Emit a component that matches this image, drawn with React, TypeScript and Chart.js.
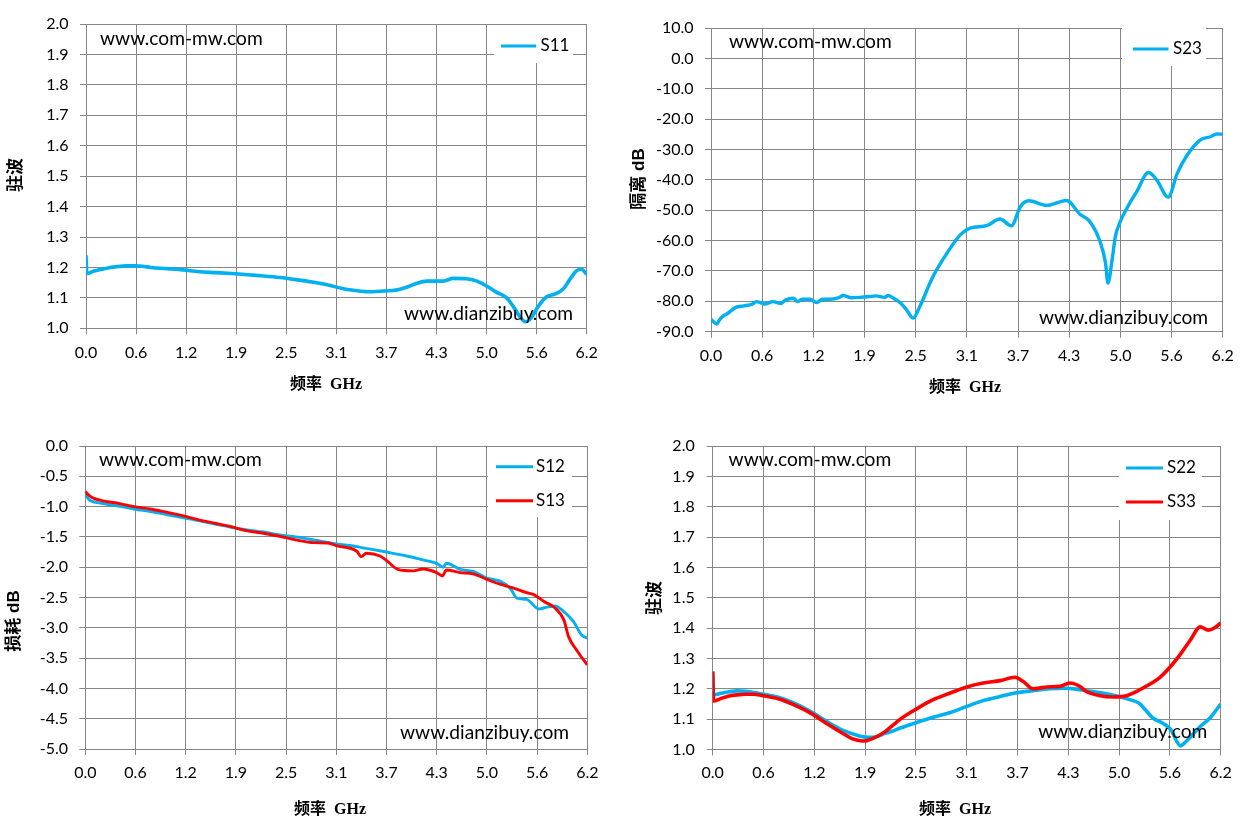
import React, { useEffect, useRef } from "react";
import { Chart, registerables } from "chart.js";

Chart.register(...registerables);

// ---------- shared axis ticks ----------
const xTickValues = [0, 0.62, 1.24, 1.86, 2.48, 3.1, 3.72, 4.34, 4.96, 5.58, 6.2];
const xTickLabels = ["0.0", "0.6", "1.2", "1.9", "2.5", "3.1", "3.7", "4.3", "5.0", "5.6", "6.2"];
const vswrTicks = [1.0, 1.1, 1.2, 1.3, 1.4, 1.5, 1.6, 1.7, 1.8, 1.9, 2.0];
const isoTicks = [-90, -80, -70, -60, -50, -40, -30, -20, -10, 0, 10];
const lossTicks = [-5, -4.5, -4, -3.5, -3, -2.5, -2, -1.5, -1, -0.5, 0];

// ---------- S11 (驻波) ----------
const s11Freq = [0, 0.01, 0.1, 0.2, 0.3, 0.4, 0.5, 0.6, 0.7, 0.8, 1.0, 1.2, 1.4, 1.6, 1.8, 2.0, 2.2, 2.4, 2.6, 2.8, 3.0, 3.2, 3.4, 3.5, 3.64, 3.8, 3.97, 4.09, 4.22, 4.42, 4.55, 4.71, 4.84, 4.96, 5.08, 5.21, 5.29, 5.37, 5.44, 5.52, 5.6, 5.7, 5.81, 5.91, 5.99, 6.07, 6.13, 6.2];
const s11Vals = [1.24, 1.18, 1.188, 1.194, 1.2, 1.203, 1.205, 1.205, 1.204, 1.2, 1.196, 1.192, 1.186, 1.183, 1.18, 1.176, 1.172, 1.167, 1.16, 1.152, 1.142, 1.129, 1.122, 1.12, 1.122, 1.124, 1.135, 1.147, 1.155, 1.155, 1.164, 1.163, 1.155, 1.139, 1.119, 1.1, 1.072, 1.039, 1.022, 1.037, 1.072, 1.103, 1.113, 1.129, 1.16, 1.188, 1.195, 1.178];

// ---------- S23 (隔离 dB) ----------
const s23Freq = [0, 0.03, 0.07, 0.1, 0.15, 0.2, 0.3, 0.4, 0.5, 0.55, 0.6, 0.65, 0.75, 0.85, 0.9, 1.0, 1.05, 1.1, 1.2, 1.28, 1.35, 1.45, 1.55, 1.6, 1.7, 1.8, 1.9, 2.0, 2.1, 2.15, 2.2, 2.29, 2.37, 2.45, 2.53, 2.69, 2.86, 3.02, 3.14, 3.34, 3.5, 3.64, 3.75, 3.85, 4.07, 4.31, 4.47, 4.59, 4.72, 4.78, 4.81, 4.86, 4.9, 4.96, 5.04, 5.16, 5.3, 5.4, 5.54, 5.65, 5.77, 5.93, 6.05, 6.13, 6.2];
const s23Vals = [-85.9, -86.7, -87.5, -86.2, -84.8, -84, -82, -81.5, -80.9, -80.1, -80.4, -80.9, -80.1, -80.7, -79.6, -79, -80.1, -79.3, -79.3, -80.4, -79.3, -79.3, -78.8, -78.1, -78.8, -78.7, -78.5, -78.2, -78.7, -78.1, -78.8, -80.4, -82.8, -85.5, -81.7, -71.8, -64.1, -58.1, -55.9, -55.1, -52.9, -55.1, -48.8, -46.9, -48.4, -46.8, -51.3, -53.7, -60.8, -67.4, -74, -66.3, -58.6, -53.7, -49.3, -43.8, -37.6, -40, -45.7, -37.8, -31.8, -26.8, -25.8, -24.9, -25];

// ---------- S12 / S13 (损耗 dB) ----------
const s12Freq = [0, 0.05, 0.1, 0.2, 0.3, 0.5, 0.6, 0.8, 1.0, 1.2, 1.4, 1.6, 1.8, 2.0, 2.2, 2.4, 2.6, 2.82, 3.1, 3.31, 3.43, 3.72, 3.97, 4.17, 4.34, 4.42, 4.46, 4.63, 4.79, 4.96, 5.12, 5.25, 5.33, 5.45, 5.6, 5.7, 5.8, 5.9, 6.03, 6.13, 6.2];
const s12Vals = [-0.8, -0.89, -0.92, -0.945, -0.97, -1.01, -1.04, -1.08, -1.13, -1.18, -1.23, -1.29, -1.34, -1.385, -1.42, -1.469, -1.5, -1.551, -1.617, -1.65, -1.68, -1.75, -1.815, -1.88, -1.936, -2.0, -1.936, -2.035, -2.07, -2.18, -2.23, -2.35, -2.51, -2.53, -2.69, -2.66, -2.64, -2.72, -2.9, -3.12, -3.17];
const s13Freq = [0, 0.05, 0.1, 0.2, 0.4, 0.6, 0.8, 1.0, 1.2, 1.4, 1.6, 1.8, 2.0, 2.2, 2.4, 2.6, 2.82, 3.0, 3.1, 3.35, 3.41, 3.47, 3.64, 3.72, 3.86, 4.05, 4.17, 4.34, 4.41, 4.46, 4.63, 4.79, 4.96, 5.12, 5.28, 5.45, 5.55, 5.67, 5.79, 5.91, 5.97, 6.08, 6.17, 6.2];
const s13Vals = [-0.753, -0.82, -0.86, -0.9, -0.945, -1.0, -1.04, -1.09, -1.15, -1.22, -1.275, -1.33, -1.4, -1.44, -1.49, -1.55, -1.595, -1.6, -1.645, -1.733, -1.826, -1.77, -1.815, -1.89, -2.035, -2.06, -2.03, -2.09, -2.145, -2.046, -2.09, -2.11, -2.2, -2.28, -2.34, -2.42, -2.46, -2.57, -2.66, -2.87, -3.15, -3.39, -3.56, -3.61];

// ---------- S22 / S33 (驻波) ----------
const s22Freq = [0, 0.01, 0.1, 0.2, 0.3, 0.4, 0.5, 0.6, 0.8, 1.0, 1.2, 1.4, 1.6, 1.8, 1.9, 2.0, 2.1, 2.2, 2.29, 2.49, 2.69, 2.9, 3.1, 3.3, 3.51, 3.69, 3.91, 4.11, 4.32, 4.48, 4.64, 4.8, 4.96, 5.12, 5.2, 5.28, 5.37, 5.49, 5.59, 5.71, 5.78, 5.95, 6.07, 6.2];
const s22Vals = [1.257, 1.18, 1.185, 1.19, 1.193, 1.192, 1.188, 1.183, 1.172, 1.152, 1.124, 1.091, 1.062, 1.044, 1.04, 1.042, 1.053, 1.061, 1.071, 1.089, 1.106, 1.122, 1.142, 1.161, 1.175, 1.186, 1.194, 1.2, 1.202, 1.197, 1.191, 1.184, 1.175, 1.162, 1.153, 1.131, 1.104, 1.087, 1.066, 1.012, 1.027, 1.076, 1.104, 1.15];
const s33Freq = [0, 0.01, 0.1, 0.2, 0.3, 0.4, 0.5, 0.6, 0.8, 1.0, 1.2, 1.4, 1.6, 1.7, 1.8, 1.85, 1.9, 2.0, 2.1, 2.2, 2.29, 2.49, 2.69, 2.9, 3.1, 3.3, 3.51, 3.69, 3.79, 3.91, 4.08, 4.24, 4.36, 4.48, 4.56, 4.73, 4.89, 5.05, 5.17, 5.3, 5.46, 5.58, 5.7, 5.83, 5.95, 6.05, 6.13, 6.2];
const s33Vals = [1.257, 1.16, 1.168, 1.176, 1.18, 1.182, 1.182, 1.178, 1.167, 1.146, 1.119, 1.084, 1.051, 1.036, 1.029, 1.028, 1.031, 1.042, 1.058, 1.08, 1.1, 1.134, 1.164, 1.186, 1.206, 1.219, 1.227, 1.238, 1.224, 1.2, 1.206, 1.208, 1.219, 1.208, 1.191, 1.177, 1.173, 1.177, 1.191, 1.21, 1.238, 1.271, 1.311, 1.361, 1.404, 1.393, 1.402, 1.417];

const watermarkTop = "www.com-mw.com";
const watermarkBottom = "www.dianzibuy.com";
const xTitle = "频率  GHz";

const CYAN = "#00B0F0";
const RED = "#FF0000";
const GRID = "#878787";
const W = 625;
const H = 415;

type Series = { label: string; freq: number[]; vals: number[]; color: string; width: number; order: number };
type Spec = {
  id: string;
  left: number;
  top: number;
  area: { l: number; r: number; t: number; b: number };
  yTicks: number[];
  yPad: number;
  xPad: number;
  yTitle: string;
  series: Series[];
  marks: { x: number; y: number }[];
  legend: { x: number; y: number; w: number; h: number; x1: number; x2: number; tx: number; rows: number[] };
  xTitlePos: { x: number; y: number };
  yTitlePos: { x: number; y: number };
};

const specs: Spec[] = [
  {
    id: "c1", left: 0, top: 0,
    area: { l: 86, r: 586.7, t: 24, b: 328.3 },
    yTicks: vswrTicks, yPad: 11.5, xPad: 9, yTitle: "驻波",
    series: [{ label: "S11", freq: s11Freq, vals: s11Vals, color: CYAN, width: 3.6, order: 0 }],
    marks: [{ x: 100, y: 45 }, { x: 404, y: 320 }],
    legend: { x: 494, y: 25, w: 79, h: 38, x1: 501, x2: 536, tx: 540.5, rows: [46] },
    xTitlePos: { x: 326, y: 385 }, yTitlePos: { x: 16, y: 175 },
  },
  {
    id: "c2", left: 625, top: 0,
    area: { l: 86, r: 597.7, t: 28, b: 331.7 },
    yTicks: isoTicks, yPad: 11.5, xPad: 9, yTitle: "隔离 dB",
    series: [{ label: "S23", freq: s23Freq, vals: s23Vals, color: CYAN, width: 3.4, order: 0 }],
    marks: [{ x: 104, y: 48 }, { x: 414, y: 323.5 }],
    legend: { x: 497, y: 28, w: 84, h: 38, x1: 508, x2: 543.5, tx: 548, rows: [49] },
    xTitlePos: { x: 340, y: 388 }, yTitlePos: { x: 14, y: 179 },
  },
  {
    id: "c3", left: 0, top: 415,
    area: { l: 85.3, r: 587.3, t: 31, b: 334 },
    yTicks: lossTicks, yPad: 11.3, xPad: 8.4, yTitle: "损耗 dB",
    series: [
      { label: "S12", freq: s12Freq, vals: s12Vals, color: CYAN, width: 2.9, order: 1 },
      { label: "S13", freq: s13Freq, vals: s13Vals, color: RED, width: 2.9, order: 0 },
    ],
    marks: [{ x: 99, y: 51 }, { x: 400, y: 324 }],
    legend: { x: 488, y: 32, w: 84, h: 70, x1: 496, x2: 533, tx: 536, rows: [51.7, 85.7] },
    xTitlePos: { x: 330, y: 395 }, yTitlePos: { x: 14, y: 206 },
  },
  {
    id: "c4", left: 625, top: 415,
    area: { l: 87.7, r: 595.7, t: 31, b: 334.5 },
    yTicks: vswrTicks, yPad: 12, xPad: 8, yTitle: "驻波",
    series: [
      { label: "S22", freq: s22Freq, vals: s22Vals, color: CYAN, width: 3.6, order: 1 },
      { label: "S33", freq: s33Freq, vals: s33Vals, color: RED, width: 3.6, order: 0 },
    ],
    marks: [{ x: 103.6, y: 51 }, { x: 413.3, y: 323.3 }],
    legend: { x: 494, y: 32, w: 83, h: 73, x1: 501, x2: 538, tx: 542, rows: [53, 87] },
    xTitlePos: { x: 330, y: 395 }, yTitlePos: { x: 30, y: 183 },
  },
];

function makeOverlay(spec: Spec) {
  return {
    id: "overlay_" + spec.id,
    afterDatasetsDraw(chart: any) {
      const ctx: CanvasRenderingContext2D = chart.ctx;
      ctx.save();
      // watermarks
      ctx.font = "19.2px Lato";
      ctx.fillStyle = "#000";
      ctx.textAlign = "left";
      ctx.textBaseline = "alphabetic";
      ctx.fillText(watermarkTop, spec.marks[0].x, spec.marks[0].y);
      ctx.fillText(watermarkBottom, spec.marks[1].x, spec.marks[1].y);
      // legend
      const lg = spec.legend;
      ctx.fillStyle = "#fff";
      ctx.fillRect(lg.x, lg.y, lg.w, lg.h);
      chart.data.datasets.forEach((ds: any, i: number) => {
        const y = lg.rows[i];
        ctx.strokeStyle = ds.borderColor;
        ctx.lineWidth = 3;
        ctx.beginPath();
        ctx.moveTo(lg.x1, y);
        ctx.lineTo(lg.x2, y);
        ctx.stroke();
        ctx.fillStyle = "#000";
        ctx.font = "17px Lato";
        ctx.textBaseline = "middle";
        ctx.textAlign = "left";
        ctx.fillText(ds.label, lg.tx, y);
      });
      ctx.restore();
    },
    afterDraw(chart: any) {
      const ctx: CanvasRenderingContext2D = chart.ctx;
      ctx.save();
      ctx.fillStyle = "#000";
      ctx.textAlign = "center";
      ctx.textBaseline = "middle";
      ctx.font = "bold 16px 'Liberation Serif', 'Noto Sans CJK SC'";
      ctx.fillText(xTitle, spec.xTitlePos.x, spec.xTitlePos.y);
      ctx.translate(spec.yTitlePos.x, spec.yTitlePos.y);
      ctx.rotate(-Math.PI / 2);
      ctx.font = "bold 17px 'Liberation Sans', 'Noto Sans CJK SC'";
      ctx.fillText(spec.yTitle, 0, 0);
      ctx.restore();
    },
  };
}

function buildConfig(spec: Spec): any {
  const yMin = spec.yTicks[0];
  const yMax = spec.yTicks[spec.yTicks.length - 1];
  return {
    type: "line",
    data: {
      datasets: spec.series.map((s) => ({
        label: s.label,
        data: s.freq.map((f, i) => ({ x: f, y: s.vals[i] })),
        borderColor: s.color,
        backgroundColor: s.color,
        borderWidth: s.width,
        pointRadius: 0,
        fill: false,
        cubicInterpolationMode: "monotone",
        order: s.order,
      })),
    },
    options: {
      responsive: false,
      animation: false,
      events: [],
      layout: { padding: { left: 0, top: spec.area.t, right: W - spec.area.r, bottom: 0 } },
      plugins: { legend: { display: false }, tooltip: { enabled: false }, title: { display: false } },
      scales: {
        x: {
          type: "linear",
          min: 0,
          max: 6.2,
          afterBuildTicks: (s: any) => {
            s.ticks = xTickValues.map((v) => ({ value: v }));
          },
          afterFit: (s: any) => {
            s.height = H - spec.area.b;
          },
          ticks: {
            autoSkip: false,
            maxRotation: 0,
            minRotation: 0,
            padding: spec.xPad,
            color: "#000",
            font: { family: "Lato", size: 16 },
            callback: (_v: any, i: number) => xTickLabels[i],
          },
          grid: { color: GRID, lineWidth: 1, drawTicks: true, tickLength: 6 },
          border: { display: true, color: GRID, width: 1 },
        },
        y: {
          type: "linear",
          min: yMin,
          max: yMax,
          afterBuildTicks: (s: any) => {
            s.ticks = spec.yTicks.map((v) => ({ value: v }));
          },
          afterFit: (s: any) => {
            s.width = spec.area.l;
          },
          ticks: {
            padding: spec.yPad,
            color: "#000",
            font: { family: "Lato", size: 16 },
            callback: (v: any) => Number(v).toFixed(1),
          },
          grid: { color: GRID, lineWidth: 1, drawTicks: true, tickLength: 6 },
          border: { display: true, color: GRID, width: 1 },
        },
      },
    },
    plugins: [makeOverlay(spec)],
  };
}

function Panel({ spec }: { spec: Spec }) {
  const ref = useRef<HTMLCanvasElement | null>(null);
  useEffect(() => {
    if (!ref.current) return;
    const chart = new Chart(ref.current, buildConfig(spec));
    return () => chart.destroy();
  }, [spec]);
  return (
    <canvas
      ref={ref}
      width={W}
      height={H}
      style={{ position: "absolute", left: spec.left, top: spec.top, width: W, height: H }}
    />
  );
}

export default function App() {
  return (
    <div style={{ position: "fixed", left: 0, top: 0, width: 1250, height: 830, background: "#fff", overflow: "hidden" }}>
      {specs.map((s) => (
        <Panel key={s.id} spec={s} />
      ))}
    </div>
  );
}
